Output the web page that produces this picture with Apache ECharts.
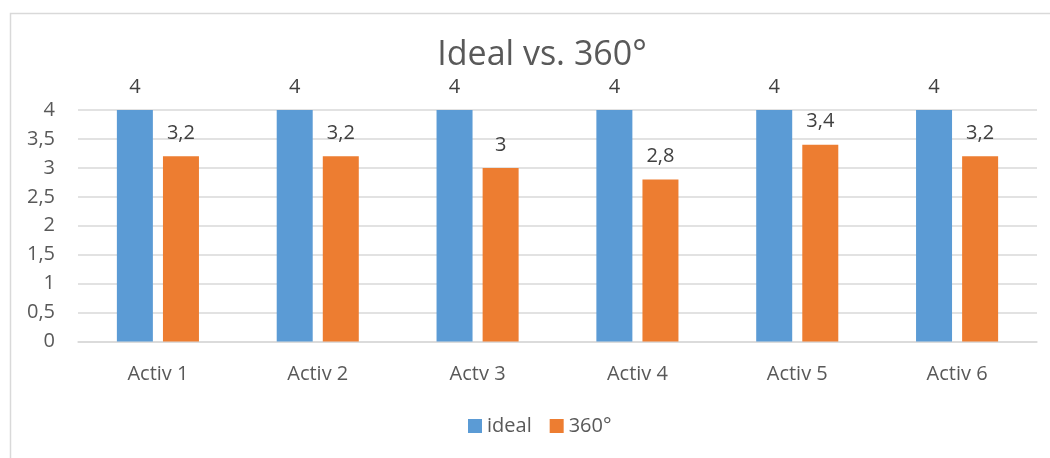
<!DOCTYPE html>
<html>
<head>
<meta charset="utf-8">
<script src="https://cdn.jsdelivr.net/npm/echarts@6/dist/echarts.min.js"></script>
<style>
  html, body { margin: 0; padding: 0; background: #ffffff; }
  #chart { width: 1050px; height: 458px; }
</style>
</head>
<body>
<div id="chart"></div>
<script>
// Activity scores: ideal target against the 360° feedback result
const categories = ['Activ 1', 'Activ 2', 'Actv 3', 'Activ 4', 'Activ 5', 'Activ 6'];
const idealValues = [4, 4, 4, 4, 4, 4];
const feedbackValues = [3.2, 3.2, 3, 2.8, 3.4, 3.2];
const seriesNames = ['ideal', '360°'];
const titleText = 'Ideal vs. 360°';

const FONT = '"Open Sans", "Noto Sans", sans-serif';
const comma = v => String(v).replace('.', ',');

const chart = echarts.init(document.getElementById('chart'), null, { renderer: 'canvas' });

const valueLabel = {
  show: true,
  position: 'top',
  distance: 13,
  fontFamily: FONT,
  fontSize: 20,
  lineHeight: 20,
  color: '#404040',
  formatter: p => comma(p.value)
};

chart.setOption({
  animation: false,
  backgroundColor: '#ffffff',
  graphic: [{
    type: 'rect',
    left: 8, top: 11,
    shape: { width: 1100, height: 500 },
    style: { fill: 'none', stroke: '#d9d9d9', lineWidth: 1.5 },
    silent: true
  }],
  title: {
    text: titleText,
    left: 542,
    top: 35,
    padding: 0,
    textAlign: 'center',
    textStyle: { fontFamily: FONT, fontSize: 34, lineHeight: 40, fontWeight: 'normal', color: '#595959' }
  },
  legend: {
    data: seriesNames,
    top: 416,
    left: 468,
    padding: 0,
    itemWidth: 14,
    itemHeight: 14,
    itemGap: 18,
    icon: 'rect',
    textStyle: { fontFamily: FONT, fontSize: 20, color: '#595959' }
  },
  grid: { left: 78, right: 13, top: 110, bottom: 116.5, containLabel: false },
  xAxis: {
    type: 'category',
    data: categories,
    axisLine: { lineStyle: { color: '#d9d9d9', width: 1.5 } },
    axisTick: { show: false },
    axisLabel: { fontFamily: FONT, fontSize: 20, color: '#595959', margin: 23 }
  },
  yAxis: {
    type: 'value',
    min: 0,
    max: 4,
    interval: 0.5,
    axisLine: { show: false },
    axisTick: { show: false },
    splitLine: { lineStyle: { color: '#d9d9d9', width: 1.5 } },
    axisLabel: { fontFamily: FONT, fontSize: 20, color: '#595959', margin: 23, formatter: comma }
  },
  series: [
    {
      name: seriesNames[0],
      type: 'bar',
      data: idealValues,
      barWidth: 36,
      barGap: '28%',
      itemStyle: { color: '#5b9bd5' },
      label: valueLabel
    },
    {
      name: seriesNames[1],
      type: 'bar',
      data: feedbackValues,
      barWidth: 36,
      itemStyle: { color: '#ed7d31' },
      label: valueLabel
    }
  ]
});
</script>
</body>
</html>
